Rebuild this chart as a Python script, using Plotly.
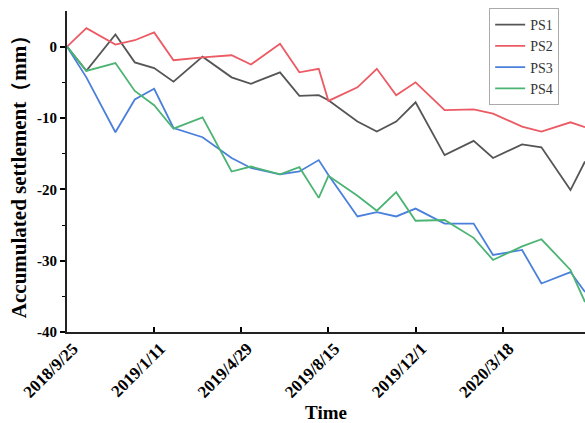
import plotly.graph_objects as go

dates = ["2018-09-25", "2018-10-19", "2018-11-24", "2018-12-18", "2019-01-11", "2019-02-04",
         "2019-03-12", "2019-04-17", "2019-05-11", "2019-06-16", "2019-07-10", "2019-08-03",
         "2019-08-15", "2019-09-20", "2019-10-14", "2019-11-07", "2019-12-01", "2020-01-06",
         "2020-02-11", "2020-03-06", "2020-04-11", "2020-05-05", "2020-06-10", "2020-06-28"]

ps1 = [0, -3.4, 1.7, -2.2, -3.0, -4.9, -1.4, -4.3, -5.2, -3.6, -6.9, -6.8,
       -7.5, -10.5, -11.9, -10.5, -7.8, -15.2, -13.2, -15.6, -13.7, -14.1, -20.1, -16.1]
ps2 = [0, 2.6, 0.3, 0.9, 2.0, -1.9, -1.5, -1.2, -2.5, 0.4, -3.6, -3.1,
       -7.6, -5.7, -3.1, -6.8, -5.0, -8.9, -8.8, -9.4, -11.2, -11.9, -10.6, -11.3]
ps3 = [0, -4.3, -12.0, -7.4, -5.9, -11.4, -12.7, -15.6, -17.0, -17.9, -17.5, -15.9,
       -18.0, -23.8, -23.2, -23.8, -22.7, -24.8, -24.8, -29.2, -28.5, -33.2, -31.6, -34.4]
ps4 = [0, -3.4, -2.3, -6.2, -8.2, -11.5, -9.9, -17.5, -16.8, -17.9, -16.9, -21.2,
       -18.1, -20.9, -23.0, -20.4, -24.4, -24.3, -26.8, -29.9, -28.0, -27.0, -31.3, -35.8]

series_names = ["PS1", "PS2", "PS3", "PS4"]
series_values = [ps1, ps2, ps3, ps4]
series_colors = ["#555555", "#ec5a64", "#4a80db", "#4cb473"]

x_tick_vals = ["2018-09-25", "2019-01-11", "2019-04-29", "2019-08-15", "2019-12-01", "2020-03-18"]
x_tick_text = ["2018/9/25", "2019/1/11", "2019/4/29", "2019/8/15", "2019/12/1", "2020/3/18"]
y_tick_vals = [0, -10, -20, -30, -40]
y_tick_text = ["0", "-10", "-20", "-30", "-40"]

serif = "Liberation Serif, Times New Roman, serif"

fig = go.Figure()
for name, vals, col in zip(series_names, series_values, series_colors):
    fig.add_trace(go.Scatter(x=dates, y=vals, mode="lines", name=name,
                             line=dict(color=col, width=1.8)))

fig.update_layout(
    width=585, height=423,
    margin=dict(l=67, r=0, t=11, b=91),
    paper_bgcolor="white", plot_bgcolor="white",
    showlegend=True,
    legend=dict(x=0.815, y=1.009, xanchor="left", yanchor="top",
                bordercolor="#aaaaaa", borderwidth=1, bgcolor="white",
                font=dict(family=serif, size=14, color="#333333"),
                tracegroupgap=0, itemwidth=30),
)
fig.update_xaxes(
    type="date", range=["2018-09-25", "2020-06-28"],
    tickvals=x_tick_vals, ticktext=x_tick_text, tickangle=-45,
    tickfont=dict(family=serif, size=17, color="black", weight="bold"),
    ticklabelshift=6, ticklabelstandoff=-2,
    ticks="inside", ticklen=5, tickwidth=1.5, tickcolor="black",
    showline=True, linecolor="#222222", linewidth=2,
    showgrid=False, zeroline=False,
    title=dict(text="<b>Time</b>", font=dict(family=serif, size=19, color="black"), standoff=6),
)
fig.update_yaxes(
    range=[-40, 5],
    tickvals=y_tick_vals, ticktext=y_tick_text,
    tickfont=dict(family=serif, size=15, color="black", weight="bold"),
    ticks="outside", ticklen=5, tickwidth=1.5, tickcolor="black",
    minor=dict(tickvals=[-5, -15, -25, -35], ticks="outside", ticklen=3, tickwidth=1.2, tickcolor="black"),
    showline=True, linecolor="#222222", linewidth=2,
    showgrid=False, zeroline=False,
    title=dict(text="<b>Accumulated settlement（mm）</b>", font=dict(family=serif, size=21, color="black"), standoff=5),
)

fig.write_html("out.html", config={"displayModeBar": False},
               post_script="document.body.style.margin='0';document.body.style.overflow='hidden';")
